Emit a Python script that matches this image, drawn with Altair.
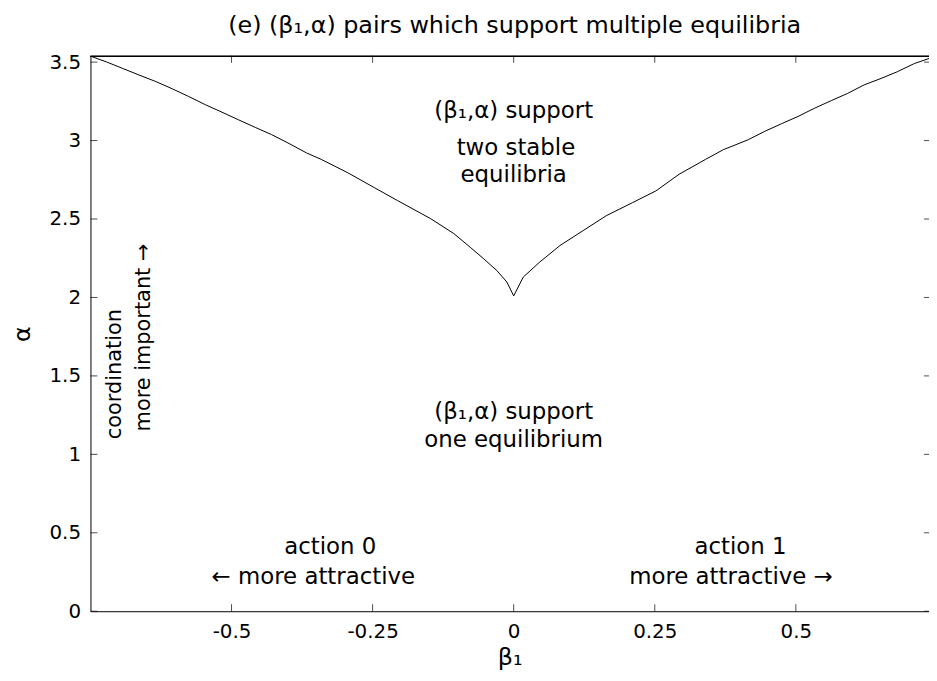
import altair as alt
import pandas as pd

# ---- boundary curve (beta_1, alpha) ----
beta1 = [-0.747, -0.722, -0.693, -0.664, -0.634, -0.605, -0.576, -0.546, -0.517, -0.488,
         -0.458, -0.429, -0.400, -0.367, -0.341, -0.294, -0.247, -0.206, -0.147, -0.106,
         -0.077, -0.053, -0.030, -0.012, 0.0,
         0.017, 0.046, 0.082, 0.123, 0.164, 0.211, 0.252, 0.293, 0.340, 0.372,
         0.387, 0.416, 0.445, 0.475, 0.504, 0.533, 0.563, 0.592, 0.621, 0.651,
         0.680, 0.710, 0.736]
alpha = [3.534, 3.502, 3.460, 3.418, 3.376, 3.330, 3.281, 3.228, 3.181, 3.133,
         3.084, 3.038, 2.985, 2.921, 2.880, 2.795, 2.700, 2.618, 2.502, 2.407,
         2.320, 2.246, 2.172, 2.098, 2.010,
         2.130, 2.225, 2.331, 2.426, 2.521, 2.605, 2.679, 2.785, 2.880, 2.943,
         2.964, 3.006, 3.059, 3.108, 3.154, 3.206, 3.255, 3.301, 3.355, 3.396,
         3.439, 3.491, 3.523]

# ---- axes ----
x_ticks = [-0.5, -0.25, 0, 0.25, 0.5]
y_ticks = [0, 0.5, 1, 1.5, 2, 2.5, 3, 3.5]
x_domain = [-0.75, 0.736]
y_domain = [0, 3.54]

# ---- annotations ----
ann_text = ["(β₁,α) support", "two stable", "equilibria",
            "(β₁,α) support", "one equilibrium",
            "action 0", "← more attractive", "action 1", "more attractive →"]
ann_beta = [0.0, 0.004, 0.0, 0.0, 0.0, -0.325, -0.355, 0.402, 0.385]
ann_alpha = [3.19, 2.95, 2.78, 1.27, 1.09, 0.41, 0.22, 0.41, 0.22]

rot_text = ["coordination", "more important →"]
rot_beta = [-0.706, -0.655]
rot_alpha = [1.096, 1.146]

FONT = "DejaVu Sans"
W, H = 844, 559

curve = pd.DataFrame({"b": beta1, "a": alpha, "i": range(len(beta1))})
xt = pd.DataFrame({"b": x_ticks})
yt = pd.DataFrame({"a": y_ticks})
ann = pd.DataFrame({"t": ann_text, "b": ann_beta, "a": ann_alpha})
rot = pd.DataFrame({"t": rot_text, "b": rot_beta, "a": rot_alpha})

lab = "datum.value < 0 ? '-' + format(-datum.value, '~g') : format(datum.value, '~g')"

xs = alt.Scale(domain=x_domain, nice=False, zero=False)
ys = alt.Scale(domain=y_domain, nice=False, zero=False)

axis_style = dict(ticks=False, grid=False, domainColor="black", domainWidth=1,
                  labelOverlap=False, labelFlush=False, labelFont=FONT, labelFontSize=20,
                  labelColor="black", titleFont=FONT, titleFontSize=24,
                  titleFontWeight="normal", titleColor="black", labelPadding=10)

line = alt.Chart(curve).mark_line(color="black", strokeWidth=1).encode(
    x=alt.X("b:Q", scale=xs,
            axis=alt.Axis(values=x_ticks, labelExpr=lab, title="β₁", titlePadding=5,
                          **axis_style)),
    y=alt.Y("a:Q", scale=ys,
            axis=alt.Axis(values=y_ticks, labelExpr=lab, title="α", titlePadding=15,
                          **axis_style)),
    order="i:Q",
)

top_rule = alt.Chart(xt).mark_rule(color="black", strokeWidth=1).encode(
    x=alt.value(0), x2=alt.value(W), y=alt.value(0.5)
)

tick_bottom = alt.Chart(xt).mark_tick(color="black", size=7, thickness=1).encode(
    x=alt.X("b:Q", scale=xs), y=alt.value(H - 3.5))
tick_top = alt.Chart(xt).mark_tick(color="black", size=7, thickness=1).encode(
    x=alt.X("b:Q", scale=xs), y=alt.value(3.5))
tick_left = alt.Chart(yt).mark_tick(color="black", size=7, thickness=1).encode(
    y=alt.Y("a:Q", scale=ys), x=alt.value(3.5))
tick_right = alt.Chart(yt).mark_tick(color="black", size=5, thickness=1).encode(
    y=alt.Y("a:Q", scale=ys), x=alt.value(W - 2.5))

texts = alt.Chart(ann).mark_text(font=FONT, fontSize=23, color="black",
                                 align="center", baseline="middle").encode(
    x=alt.X("b:Q", scale=xs), y=alt.Y("a:Q", scale=ys), text="t:N")

rtexts = alt.Chart(rot).mark_text(font=FONT, fontSize=21, color="black", angle=270,
                                  align="left", baseline="middle").encode(
    x=alt.X("b:Q", scale=xs), y=alt.Y("a:Q", scale=ys), text="t:N")

chart = alt.layer(line, top_rule, tick_bottom, tick_top, tick_left, tick_right,
                  texts, rtexts).properties(
    width=W, height=H,
    title=alt.TitleParams(text="(e) (β₁,α) pairs which support multiple equilibria",
                          font=FONT, fontSize=24, fontWeight="normal", color="black",
                          anchor="middle", offset=14, dx=5),
    autosize=alt.AutoSizeParams(type="none"),
    padding={"left": 83, "top": 46, "right": 0, "bottom": 60},
    background="white",
).configure_view(stroke=None)

chart.save("out.html", embed_options={"renderer": "svg", "actions": False})
